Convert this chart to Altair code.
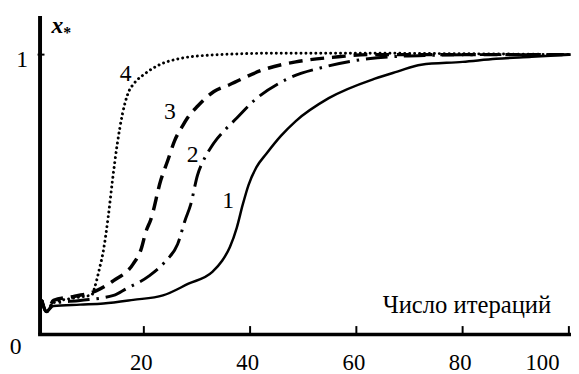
import altair as alt
import pandas as pd

# ---- data ----
x1 = [0.8, 1.7, 3, 8, 12.4, 18, 23.6, 28.4, 32.9, 34.7, 36.2, 37.5, 38.6, 39.7, 41.2, 43.1, 45.8, 48.6, 54.8, 63.5, 67.7, 72.2, 80, 86.3, 93, 100.3]
y1 = [0.12, 0.08, 0.10, 0.105, 0.109, 0.122, 0.138, 0.18, 0.222, 0.261, 0.311, 0.381, 0.462, 0.533, 0.597, 0.646, 0.709, 0.762, 0.844, 0.914, 0.939, 0.964, 0.974, 0.985, 0.992, 1.0]

x2 = [0.8, 1.7, 3, 8, 14.3, 16.7, 21.0, 24.1, 26.35, 27.8, 28.8, 30.1, 31.4, 32.5, 33.8, 35.1, 37.5, 40.6, 46.8, 54.2, 62.2, 72.8, 85, 100.3]
y2 = [0.12, 0.08, 0.11, 0.12, 0.138, 0.162, 0.208, 0.261, 0.321, 0.409, 0.462, 0.568, 0.628, 0.664, 0.699, 0.727, 0.773, 0.833, 0.911, 0.957, 0.985, 0.997, 1.0, 1.0]

x3 = [0.8, 1.7, 3, 7, 11.1, 14.3, 18.0, 19.5, 20.4, 21.3, 23.2, 24.5, 25.8, 27.3, 28.2, 30.1, 33.2, 36.2, 42.5, 48.6, 56.6, 62.2, 75, 100.3]
y3 = [0.12, 0.08, 0.12, 0.135, 0.155, 0.191, 0.251, 0.304, 0.367, 0.409, 0.551, 0.621, 0.692, 0.745, 0.773, 0.815, 0.868, 0.893, 0.946, 0.974, 0.992, 1.0, 1.0, 1.0]

x4 = [0.8, 1.7, 2.8, 7.2, 10.2, 10.8, 11.6, 12.4, 13.3, 14.1, 15.0, 16.0, 17.0, 18.3, 20.1, 23.2, 26.3, 32.4, 45, 60, 80, 100.3]
y4 = [0.12, 0.08, 0.11, 0.13, 0.14, 0.17, 0.23, 0.30, 0.42, 0.55, 0.68, 0.79, 0.86, 0.90, 0.93, 0.966, 0.984, 0.998, 1.005, 1.005, 1.003, 1.0]

x_ticks = [20, 40, 60, 80, 100]

curve_names = ["1", "2", "3", "4"]
curve_label_x = [35.87, 29.19, 24.92, 16.57]
curve_label_y = [0.452, 0.614, 0.770, 0.904]

FONT = "Liberation Serif"
W, H = 541, 323

xscale = alt.Scale(domain=[0, 100.4], nice=False, zero=False)
yscale = alt.Scale(domain=[0, 1.14], nice=False, zero=False)

X = alt.X("x:Q", scale=xscale, axis=alt.Axis(
    values=x_ticks, title=None, grid=False, ticks=False, tickSize=0,
    domainWidth=3.5, domainColor="black",
    labelFont=FONT, labelFontSize=23, labelColor="black",
    labelPadding=18, labelFlush=False, labelOverlap=False, labelBaseline="top",
    labelAlign={"expr": "datum.value == 100 ? 'right' : 'center'"},
    labelOffset={"expr": "datum.value == 100 ? -10 : -3"},
))
Y = alt.Y("y:Q", scale=yscale, axis=alt.Axis(
    values=[], title=None, grid=False, ticks=False, labels=False,
    domainWidth=4, domainColor="black", offset=-2,
))


def df(xs, ys):
    return pd.DataFrame({"x": xs, "y": ys})


styles = [
    (x1, y1, None, 2.5, "butt"),
    (x2, y2, [22, 7, 2.5, 7], 3, "butt"),
    (x3, y3, [14, 8], 3.5, "butt"),
    (x4, y4, [0.01, 5], 3, "round"),
]

layers = []
for xs, ys, dash, w, cap in styles:
    mk = dict(color="black", strokeWidth=w, interpolate="monotone", strokeCap=cap)
    if dash is not None:
        mk["strokeDash"] = dash
    layers.append(alt.Chart(df(xs, ys)).mark_line(**mk).encode(x=X, y=Y))

# inward x ticks
ticks = alt.Chart(pd.DataFrame({"x": x_ticks})).mark_rule(color="black", strokeWidth=2).encode(
    x=X, y=alt.value(H), y2=alt.value(H - 8))
layers.append(ticks)

# inward y tick at 1
ytick = alt.Chart(pd.DataFrame({"y": [1.0]})).mark_rule(color="black", strokeWidth=2).encode(
    y=Y, x=alt.value(0), x2=alt.value(7))
layers.append(ytick)

# curve labels
lab = alt.Chart(pd.DataFrame({"x": curve_label_x, "y": curve_label_y, "t": curve_names})).mark_text(
    font=FONT, fontSize=24, color="black", align="center", baseline="alphabetic").encode(x=X, y=Y, text="t:N")
layers.append(lab)

# axis corner labels
corner = alt.Chart(pd.DataFrame({"x": [-2.92, -4.13], "y": [0.9566, -0.0706], "t": ["1", "0"]})).mark_text(
    font=FONT, fontSize=24, color="black", align="center", baseline="alphabetic").encode(x=X, y=Y, text="t:N")
layers.append(corner)

# axis titles
xt = alt.Chart(pd.DataFrame({"x": [64.95], "y": [0.0741], "t": ["Число итераций"]})).mark_text(
    font=FONT, fontSize=25, color="black", align="left", baseline="alphabetic").encode(x=X, y=Y, text="t:N")
layers.append(xt)

yt1 = alt.Chart(pd.DataFrame({"x": [2.6], "y": [1.0766], "t": ["x"]})).mark_text(
    font=FONT, fontSize=24, fontStyle="italic", fontWeight="bold", color="black",
    align="left", baseline="alphabetic").encode(x=X, y=Y, text="t:N")
yt2 = alt.Chart(pd.DataFrame({"x": [4.83], "y": [1.059], "t": ["*"]})).mark_text(
    font=FONT, fontSize=16, fontWeight="bold", color="black",
    align="left", baseline="alphabetic").encode(x=X, y=Y, text="t:N")
layers += [yt1, yt2]

chart = alt.layer(*layers).properties(
    width=W, height=H,
    padding={"left": 30, "top": 5, "right": 0, "bottom": 38},
    autosize=alt.AutoSizeParams(type="none"),
    background="white",
).configure_view(stroke=None)

chart.save("out.html", embed_options={"renderer": "svg", "actions": False})
